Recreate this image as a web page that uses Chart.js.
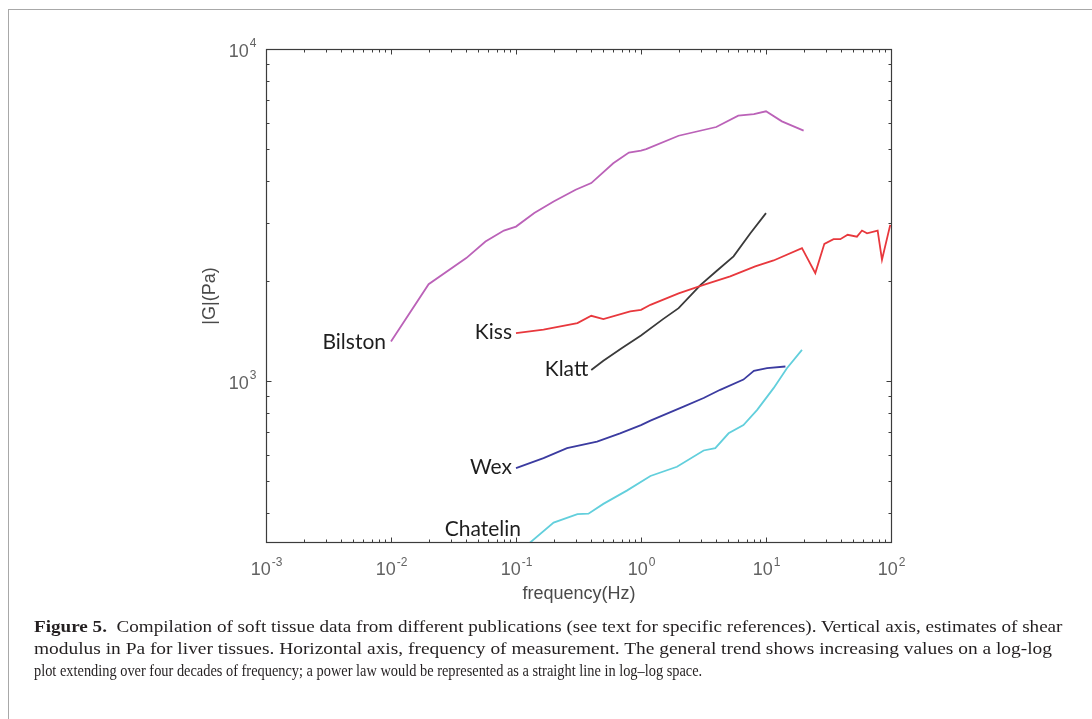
<!DOCTYPE html>
<html>
<head>
<meta charset="utf-8">
<script src="https://cdn.jsdelivr.net/npm/chart.js@4/dist/chart.umd.min.js"></script>
<style>
    html, body { margin: 0; padding: 0; background: #fff; }
    #page { position: relative; width: 1092px; height: 719px; overflow: hidden; }
    #chart { position: absolute; left: 0; top: 0; }
    .frame-top { position: absolute; left: 8px; top: 9px; width: 1084px; height: 1px; background: #a8a8a8; }
    .frame-left { position: absolute; left: 8px; top: 9px; width: 1px; height: 710px; background: #a8a8a8; }
    .caption-line {
        position: absolute; left: 34px; white-space: nowrap;
        font-family: "Liberation Serif", "DejaVu Serif", serif; font-size: 17px; color: #231f20;
        transform-origin: 0 50%;
    }
    .caption-line b { font-weight: bold; }
</style>
</head>
<body>
<div id="page">
    <canvas id="chart" width="1092" height="719"></canvas>
    <div class="frame-top"></div>
    <div class="frame-left"></div>
    <div class="caption-line" id="cap1" style="top: 617px;"><b>Figure 5.</b>&nbsp; Compilation of soft tissue data from different publications (see text for specific references). Vertical axis, estimates of shear</div>
    <div class="caption-line" id="cap2" style="top: 639px;">modulus in Pa for liver tissues. Horizontal axis, frequency of measurement. The general trend shows increasing values on a log-log</div>
    <div class="caption-line" id="cap3" style="top: 661px;">plot extending over four decades of frequency; a power law would be represented as a straight line in log–log space.</div>
</div>
<script>
    // values (frequency in Hz, |G| in Pa)
    var bilstonFreq = [0.01, 0.02, 0.04, 0.057, 0.08, 0.1, 0.14, 0.2, 0.3, 0.4, 0.6, 0.8, 1.0, 1.1, 2, 4, 6, 8, 10, 13.4, 20];
    var bilstonG = [1314, 1956, 2344, 2630, 2838, 2917, 3203, 3471, 3767, 3945, 4527, 4876, 4937, 4990, 5478, 5820, 6297, 6366, 6492, 6054, 5676];

    var kissFreq = [0.1, 0.166, 0.31, 0.4, 0.5, 0.82, 1.0, 1.19, 2, 3.17, 5.17, 8.2, 11.5, 19.4, 24.8, 29.3, 34.7, 39.3, 45, 53.4, 58.6, 64.3, 78.2, 84.7, 98.6];
    var kissG = [1393, 1426, 1493, 1571, 1535, 1619, 1637, 1695, 1836, 1946, 2064, 2212, 2306, 2512, 2112, 2588, 2673, 2673, 2755, 2720, 2838, 2784, 2838, 2317, 2951];

    var klattFreq = [0.4, 0.5, 0.7, 1.0, 1.5, 2, 3, 4, 5.5, 7.5, 10];
    var klattG = [1079, 1150, 1255, 1370, 1535, 1656, 1946, 2140, 2372, 2784, 3203];

    var wexFreq = [0.1, 0.166, 0.256, 0.445, 0.68, 1.0, 1.19, 2.19, 3.17, 4.3, 6.6, 8, 10.2, 14.3];
    var wexG = [546, 585, 627, 656, 695, 736, 759, 836, 888, 940, 1009, 1072, 1092, 1105];

    var chatelinFreq = [0.1, 0.2, 0.31, 0.38, 0.5, 0.77, 1.19, 1.94, 3.17, 3.93, 5.02, 6.6, 8.5, 11.5, 14.7, 19.4];
    var chatelinG = [300, 374, 397, 398, 426, 467, 517, 551, 617, 627, 695, 736, 818, 951, 1092, 1240];

    var seriesNames = ['Bilston', 'Kiss', 'Klatt', 'Wex', 'Chatelin'];
    var seriesColors = ['#bb62b8', '#e8383d', '#3a3a3a', '#3b3ba0', '#62cfdc'];

    var xDecades = [-3, -2, -1, 0, 1, 2];
    var yDecades = [3, 4];
    var xMin = 0.001, xMax = 100, yMin = 327, yMax = 10000;

    var xTitle = 'frequency(Hz)';
    var yTitle = '|G|(Pa)';

    var toPoints = function (xs, ys) {
        return xs.map(function (x, i) {
            return { x: x, y: ys[i] };
        });
    };

    var seriesData = [
        toPoints(bilstonFreq, bilstonG),
        toPoints(kissFreq, kissG),
        toPoints(klattFreq, klattG),
        toPoints(wexFreq, wexG),
        toPoints(chatelinFreq, chatelinG)
    ];

    // label offsets (px) relative to the first point of each curve
    var labelOffsets = {
        Bilston: [-5, 1],
        Kiss: [-4, -1],
        Klatt: [-3, -1],
        Wex: [-4, -1],
        Chatelin: [5, null]
    };

    var drawPower = function (ctx, exp, x, y, align, baseFont, expFont) {
        var base = '10';
        var sup = String(exp);
        ctx.font = baseFont;
        var wb = ctx.measureText(base).width;
        ctx.font = expFont;
        var we = ctx.measureText(sup).width;
        var left = align === 'center' ? x - (wb + we) / 2 : x - wb - we;
        ctx.textAlign = 'left';
        ctx.textBaseline = 'middle';
        ctx.font = baseFont;
        ctx.fillText(base, left, y);
        ctx.font = expFont;
        ctx.fillText(sup, left + wb + 1, y - 8);
    };

    var matlabAxes = {
        id: 'matlabAxes',
        afterDatasetsDraw: function (chart) {
            var ctx = chart.ctx;
            var area = chart.chartArea;
            var xs = chart.scales.x;
            var ys = chart.scales.y;
            var l = Math.round(area.left) + 0.5, r = Math.round(area.right) + 0.5;
            var t = Math.round(area.top) + 0.5, b = Math.round(area.bottom) + 0.5;

            ctx.save();
            ctx.strokeStyle = '#3c3c3c';
            ctx.lineWidth = 1.2;
            ctx.strokeRect(l, t, r - l, b - t);

            // ticks pointing inwards on all four sides
            ctx.lineWidth = 1;
            ctx.beginPath();
            xDecades.forEach(function (d) {
                for (var k = 1; k <= 9; k++) {
                    var v = k * Math.pow(10, d);
                    if (v < xMin || v > xMax) continue;
                    var px = Math.round(xs.getPixelForValue(v)) + 0.5;
                    var len = k === 1 ? 5 : 3;
                    ctx.moveTo(px, b); ctx.lineTo(px, b - len);
                    ctx.moveTo(px, t); ctx.lineTo(px, t + len);
                }
            });
            [2, 3].forEach(function (d) {
                for (var k = 1; k <= 9; k++) {
                    var v = k * Math.pow(10, d);
                    if (v < yMin || v > yMax) continue;
                    var py = Math.round(ys.getPixelForValue(v)) + 0.5;
                    var len = k === 1 ? 5 : 3;
                    ctx.moveTo(l, py); ctx.lineTo(l + len, py);
                    ctx.moveTo(r, py); ctx.lineTo(r - len, py);
                }
            });
            ctx.stroke();

            // tick labels
            ctx.fillStyle = '#626262';
            var baseFont = '18px "Liberation Sans", Arial, sans-serif';
            var expFont = '12px "Liberation Sans", Arial, sans-serif';
            xDecades.forEach(function (d) {
                drawPower(ctx, d, xs.getPixelForValue(Math.pow(10, d)), b + 28, 'center', baseFont, expFont);
            });
            yDecades.forEach(function (d) {
                drawPower(ctx, d, l - 11, ys.getPixelForValue(Math.pow(10, d)) + 3, 'right', baseFont, expFont);
            });

            // axis titles
            ctx.fillStyle = '#4a4a4a';
            ctx.font = '18px "Liberation Sans", Arial, sans-serif';
            ctx.textAlign = 'center';
            ctx.textBaseline = 'middle';
            ctx.fillText(xTitle, (l + r) / 2, b + 52);
            ctx.save();
            ctx.translate(l - 56, (t + b) / 2);
            ctx.rotate(-Math.PI / 2);
            ctx.fillText(yTitle, 0, 0);
            ctx.restore();

            // curve names next to where each curve starts
            ctx.fillStyle = '#1e1e1e';
            ctx.font = '21px Lato, "Open Sans", sans-serif';
            ctx.textAlign = 'right';
            seriesNames.forEach(function (name, i) {
                var first = seriesData[i][0];
                var off = labelOffsets[name];
                var px = xs.getPixelForValue(first.x) + off[0];
                var py = off[1] === null ? b - 13 : ys.getPixelForValue(first.y) + off[1];
                ctx.fillText(name, px, py);
            });
            ctx.restore();
        }
    };

    var ctx = document.getElementById('chart').getContext('2d');

    var myChart = new Chart(ctx, {
        type: 'scatter',
        data: {
            datasets: seriesNames.map(function (name, i) {
                return {
                    label: name,
                    data: seriesData[i],
                    showLine: true,
                    borderColor: seriesColors[i],
                    backgroundColor: seriesColors[i],
                    borderWidth: 1.8,
                    pointRadius: 0,
                    tension: 0
                };
            })
        },
        options: {
            responsive: false,
            animation: false,
            devicePixelRatio: 1,
            layout: {
                padding: { left: 266, top: 49, right: 201, bottom: 177 }
            },
            plugins: {
                legend: { display: false },
                tooltip: { enabled: false }
            },
            scales: {
                x: { type: 'logarithmic', min: xMin, max: xMax, display: false },
                y: { type: 'logarithmic', min: yMin, max: yMax, display: false }
            }
        },
        plugins: [matlabAxes]
    });

    // caption: squeeze each line horizontally to the width it takes in the figure
    var fitLine = function (id, target) {
        var el = document.getElementById(id);
        el.style.transform = 'scaleX(' + (target / el.scrollWidth) + ')';
    };
    fitLine('cap1', 1062 - 34);
    fitLine('cap2', 1052 - 34);
    fitLine('cap3', 702 - 34);
</script>
</body>
</html>
